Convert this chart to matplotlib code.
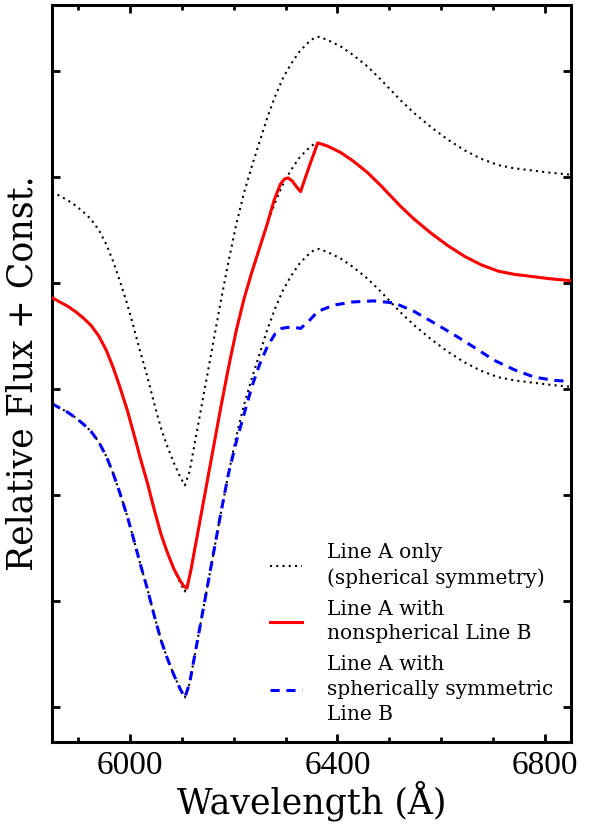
import matplotlib
matplotlib.use("Agg")
import matplotlib.pyplot as plt

# Line A only (spherical symmetry), relative flux of the lowest copy
wave_a = [5850, 5865, 5880, 5895, 5910, 5925, 5940, 5955, 5968, 5980, 5995,
          6008, 6020, 6034, 6046, 6060, 6072, 6085, 6097, 6106,
          6115, 6130, 6145, 6160, 6175, 6190, 6205, 6220, 6235, 6250, 6265,
          6280, 6295, 6310, 6325, 6340, 6355, 6365, 6381, 6406, 6430, 6458,
          6483, 6522, 6548, 6580, 6613, 6645, 6677, 6710, 6741, 6775, 6807,
          6850]
flux_a = [2.86, 2.82, 2.78, 2.73, 2.67, 2.60, 2.50, 2.36, 2.20, 2.03, 1.80,
          1.57, 1.35, 1.11, 0.88, 0.63, 0.46, 0.30, 0.17, 0.09,
          0.22, 0.62, 1.02, 1.42, 1.82, 2.20, 2.55, 2.85, 3.10, 3.33, 3.56,
          3.76, 3.93, 4.06, 4.17, 4.25, 4.31, 4.32, 4.29, 4.23, 4.15, 4.04,
          3.92, 3.72, 3.60, 3.47, 3.35, 3.25, 3.17, 3.11, 3.08, 3.06, 3.04,
          3.02]

# Line A with nonspherical Line B
wave_nonsph = [5850, 5865, 5880, 5895, 5910, 5925, 5940, 5955, 5968, 5980,
               5995, 6008, 6020, 6034, 6046, 6060, 6072, 6085, 6097, 6104,
               6110, 6118, 6130, 6145, 6160, 6175, 6190, 6205, 6220, 6235,
               6250, 6265, 6278, 6290, 6298, 6305, 6313, 6322, 6329, 6338,
               6348, 6362, 6381, 6406, 6430, 6458, 6483, 6522, 6548, 6580,
               6613, 6645, 6677, 6710, 6741, 6775, 6807, 6850]
flux_nonsph = [2.86, 2.82, 2.78, 2.73, 2.67, 2.60, 2.50, 2.36, 2.20, 2.03,
               1.80, 1.57, 1.35, 1.11, 0.88, 0.63, 0.46, 0.30, 0.19, 0.14,
               0.12, 0.30, 0.62, 1.02, 1.42, 1.82, 2.20, 2.55, 2.85, 3.10,
               3.33, 3.56, 3.78, 3.93, 3.98, 3.99, 3.96, 3.90, 3.86, 3.99,
               4.13, 4.32, 4.29, 4.23, 4.15, 4.04, 3.92, 3.72, 3.60, 3.47,
               3.35, 3.25, 3.17, 3.11, 3.08, 3.06, 3.04, 3.02]

# Line A with spherically symmetric Line B
wave_sph = [5850, 5865, 5880, 5895, 5910, 5925, 5940, 5955, 5968, 5980, 5995,
            6008, 6020, 6034, 6046, 6060, 6072, 6085, 6097, 6106,
            6115, 6130, 6145, 6160, 6175, 6190, 6205, 6220, 6235, 6250, 6265,
            6280, 6292, 6304, 6318, 6329, 6345, 6362, 6393, 6430, 6470, 6510,
            6548, 6587, 6625, 6664, 6702, 6741, 6780, 6819, 6850]
flux_sph = [2.86, 2.82, 2.78, 2.73, 2.67, 2.60, 2.50, 2.36, 2.20, 2.03, 1.80,
            1.57, 1.35, 1.11, 0.88, 0.63, 0.46, 0.30, 0.17, 0.09,
            0.22, 0.62, 1.02, 1.42, 1.82, 2.20, 2.50, 2.76, 3.02, 3.23, 3.40,
            3.52, 3.57, 3.58, 3.58, 3.57, 3.64, 3.73, 3.79, 3.82, 3.83, 3.81,
            3.73, 3.62, 3.51, 3.39, 3.27, 3.18, 3.11, 3.08, 3.07]

offsets = [0, 1, 2]

plt.rcParams['font.family'] = ['DejaVu Serif']

fig = plt.figure(figsize=(5.89, 8.25), dpi=100)
ax = fig.add_axes([0.0883, 0.1006, 0.8811, 0.8933])

for off in offsets:
    ax.plot(wave_a, [f + off for f in flux_a], color='black',
            linestyle=(0, (1, 2)), lw=1.5, zorder=1,
            label='Line A only\n(spherical symmetry)' if off == 0 else None)

ax.plot(wave_nonsph, [f + 1 for f in flux_nonsph], color='red', lw=2.2,
        zorder=3, label='Line A with\nnonspherical Line B')
ax.plot(wave_sph, flux_sph, color='blue', lw=2.2, linestyle=(0, (3, 2.2)),
        zorder=2, label='Line A with\nspherically symmetric\nLine B')

ax.set_xlim(5850, 6850)
ax.set_ylim(-0.33, 6.62)
ax.set_xticks([6000, 6400, 6800])
ax.set_xticks(range(5900, 6850, 100), minor=True)
ax.set_yticks(range(0, 7))
ax.set_yticklabels([])

ax.tick_params(which='both', direction='in', top=True, right=True, width=2)
ax.tick_params(which='major', length=6, pad=6)
ax.tick_params(which='minor', length=3.5)
for lab in ax.get_xticklabels():
    lab.set_family('Liberation Serif')
    lab.set_fontsize(24)
for s in ax.spines.values():
    s.set_linewidth(2.2)

ax.set_xlabel('Wavelength (Å)', fontsize=25, labelpad=0)
ax.set_ylabel('Relative Flux + Const.', fontsize=25, labelpad=3)

leg = ax.legend(loc='lower right', frameon=False, fontsize=14.5,
                handlelength=1.6, handletextpad=1.2, labelspacing=0.6,
                borderaxespad=0.5)
for t in leg.get_texts():
    t.set_linespacing(1.38)

fig.savefig('out.png', dpi=100)
